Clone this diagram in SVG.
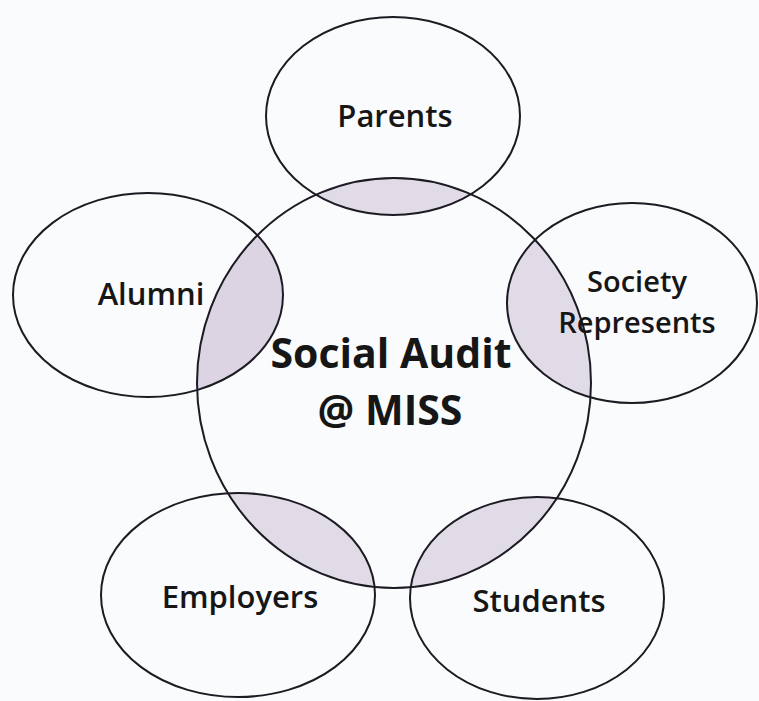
<svg xmlns="http://www.w3.org/2000/svg" width="759" height="701" viewBox="0 0 759 701">
  <style>
    .ring { fill: none; stroke: #1c1a22; stroke-width: 2; }
    .lens { fill: #e1dbe8; stroke: none; }
    .label { font-family: "Open Sans", "Liberation Sans", sans-serif; font-weight: 600; fill: #161616; text-anchor: middle; }
    .small { font-size: 31px; }
    .pair { font-size: 29px; }
    .big { font-size: 41px; font-weight: 700; }
  </style>
  <defs>
    <clipPath id="hub-clip">
      <ellipse cx="394" cy="383" rx="197" ry="205"/>
    </clipPath>
  </defs>
  <rect width="759" height="701" fill="#f9fbfc"/>

  <!-- shaded overlaps between the hub and each stakeholder -->
  <g id="overlaps" clip-path="url(#hub-clip)">
    <ellipse class="lens" cx="393" cy="116" rx="127" ry="99"/>
    <ellipse class="lens" cx="148" cy="295" rx="135" ry="102" style="fill:#dcd4e3"/>
    <ellipse class="lens" cx="632" cy="303" rx="125" ry="100"/>
    <ellipse class="lens" cx="238" cy="595" rx="137" ry="102"/>
    <ellipse class="lens" cx="537" cy="598" rx="127" ry="101"/>
  </g>

  <g id="hub">
    <ellipse class="ring" cx="394" cy="383" rx="197" ry="205"/>
    <text class="label big" x="391" y="368">Social Audit</text>
    <text class="label big" x="390" y="425">@ MISS</text>
  </g>
  <g id="parents">
    <ellipse class="ring" cx="393" cy="116" rx="127" ry="99"/>
    <text class="label small" x="395" y="127">Parents</text>
  </g>
  <g id="alumni">
    <ellipse class="ring" cx="148" cy="295" rx="135" ry="102"/>
    <text class="label small" x="151" y="305">Alumni</text>
  </g>
  <g id="society">
    <ellipse class="ring" cx="632" cy="303" rx="125" ry="100"/>
    <text class="label pair" x="637" y="292">Society</text>
    <text class="label pair" x="637" y="333">Represents</text>
  </g>
  <g id="employers">
    <ellipse class="ring" cx="238" cy="595" rx="137" ry="102"/>
    <text class="label small" x="240" y="608">Employers</text>
  </g>
  <g id="students">
    <ellipse class="ring" cx="537" cy="598" rx="127" ry="101"/>
    <text class="label small" x="539" y="612">Students</text>
  </g>
  <g id="connectors"/>
</svg>
